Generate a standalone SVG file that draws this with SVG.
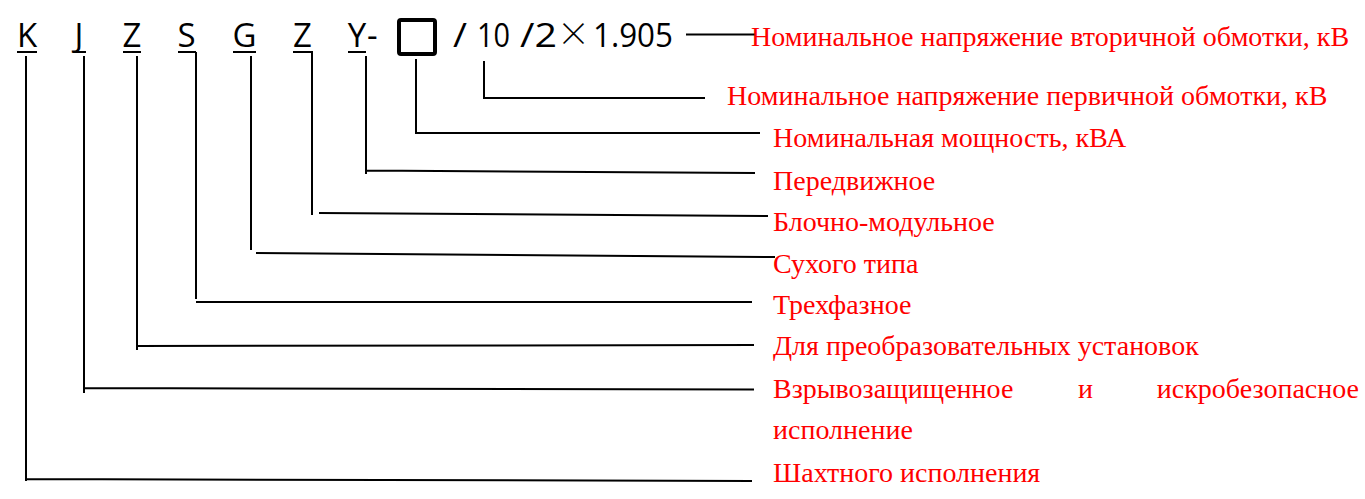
<svg xmlns="http://www.w3.org/2000/svg" width="1365" height="499" viewBox="0 0 1365 499">
<style>
.code{font-family:"Open Sans","Liberation Sans",sans-serif;font-size:33px;fill:#000}
.lbl{font-family:"Liberation Serif","Times New Roman",serif;font-size:28px;fill:#FF0000}
.ln{stroke:#000;stroke-width:2;fill:none}
.ul{stroke:#000;stroke-width:2}
</style>
<rect width="1365" height="499" fill="#fff"/>
<g id="code">
  <text class="code" x="27" y="47" text-anchor="middle">K</text>
  <text class="code" x="79" y="47" text-anchor="middle" font-family="'Liberation Sans',sans-serif">J</text>
  <text class="code" x="132" y="47" text-anchor="middle">Z</text>
  <text class="code" x="186.5" y="47" text-anchor="middle">S</text>
  <text class="code" x="244.5" y="47" text-anchor="middle">G</text>
  <text class="code" x="302.5" y="47" text-anchor="middle">Z</text>
  <text class="code" x="357" y="47" text-anchor="middle">Y</text>
  <text class="code" x="367" y="47">-</text>
  <line class="ul" x1="17" y1="52" x2="37" y2="52"/>
  <line class="ul" x1="74" y1="52" x2="86" y2="52"/>
  <line class="ul" x1="123" y1="52" x2="141" y2="52"/>
  <line class="ul" x1="178" y1="52" x2="196" y2="52"/>
  <line class="ul" x1="233" y1="52" x2="256" y2="52"/>
  <line class="ul" x1="293" y1="52" x2="313" y2="52"/>
  <line class="ul" x1="348" y1="52" x2="366" y2="52"/>
  <rect id="box" x="399" y="20" width="36" height="34" rx="2" fill="none" stroke="#000" stroke-width="4"/>
  <text class="code" x="453" y="47" textLength="14" lengthAdjust="spacingAndGlyphs">/</text>
  <text class="code" x="477" y="47" textLength="33" lengthAdjust="spacingAndGlyphs">10</text>
  <text class="code" x="520" y="47" textLength="37" lengthAdjust="spacingAndGlyphs">/2</text>
  <text x="573.5" y="46" text-anchor="middle" font-family="'Noto Sans CJK SC',sans-serif" font-size="33" font-weight="300" fill="#000">×</text>
  <text class="code" x="593" y="47" textLength="80" lengthAdjust="spacingAndGlyphs">1.905</text>
</g>
<g id="connectors">
  <path class="ln" d="M686,34.5 H755"/>
  <path class="ln" d="M484,61 V98 H705"/>
  <path class="ln" d="M416,59 V133 H760"/>
  <path class="ln" d="M366,56 V174 M366,170.5 L755,173"/>
  <path class="ln" d="M312,52 V215 M319,213 L768,216"/>
  <path class="ln" d="M251,56 V250 M256,253 L775,257"/>
  <path class="ln" d="M196,52 V299 M196,302 L752,302"/>
  <path class="ln" d="M137,56 V350 M137,346 L754,345"/>
  <path class="ln" d="M84,56 V393 M84,388 L754,389.5"/>
  <path class="ln" d="M26,56 V481 M26,479 L752,481"/>
</g>
<g id="labels">
  <text id="l1" class="lbl" x="751" y="46">Номинальное напряжение вторичной обмотки, кВ</text>
  <text id="l2" class="lbl" x="727" y="105">Номинальное напряжение первичной обмотки, кВ</text>
  <text id="l3" class="lbl" x="773" y="146.5">Номинальная мощность, кВА</text>
  <text id="l4" class="lbl" x="773" y="189.5">Передвижное</text>
  <text id="l5" class="lbl" x="773" y="230.5">Блочно-модульное</text>
  <text id="l6" class="lbl" x="773" y="272.5">Сухого типа</text>
  <text id="l7" class="lbl" x="773" y="313.5">Трехфазное</text>
  <text id="l8" class="lbl" x="773" y="355">Для преобразовательных установок</text>
  <g id="l9">
    <text class="lbl" x="773" y="398">Взрывозащищенное</text>
    <text class="lbl" x="1078" y="398">и</text>
    <text class="lbl" x="1359" y="398" text-anchor="end">искробезопасное</text>
    <text class="lbl" x="773" y="439">исполнение</text>
  </g>
  <text id="l10" class="lbl" x="773" y="482">Шахтного исполнения</text>
</g>
</svg>
